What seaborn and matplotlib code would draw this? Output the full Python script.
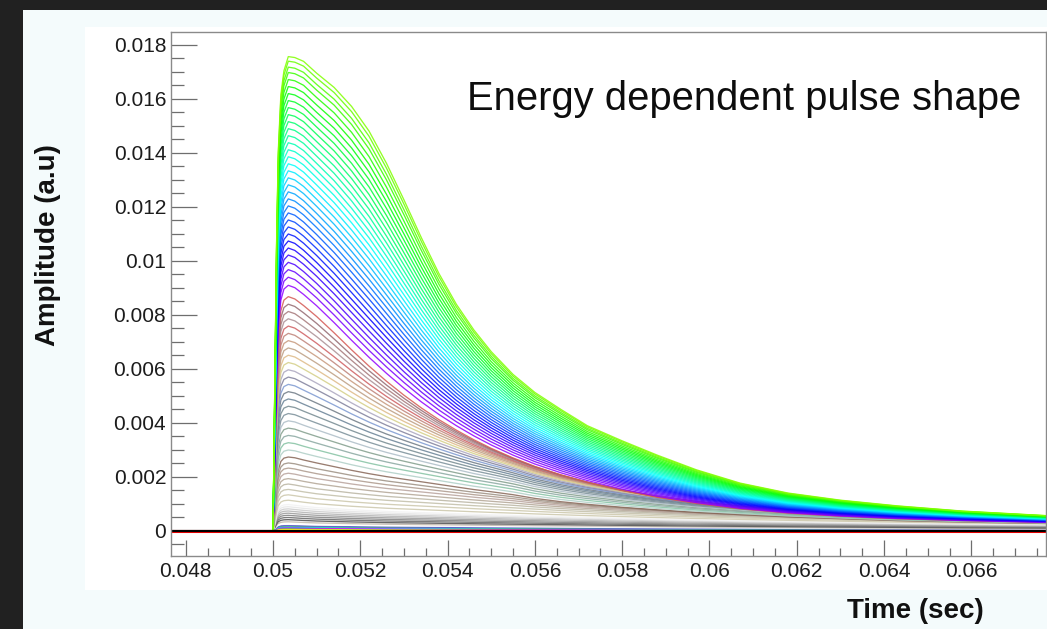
import colorsys
import numpy as np
import pandas as pd
import matplotlib
matplotlib.use("Agg")
import matplotlib.pyplot as plt
from matplotlib.patches import Rectangle
from matplotlib.ticker import MultipleLocator
import seaborn as sns

# ---------------- data ----------------
# time knots (s)
time_knots = [0.0476, 0.0500, 0.05004, 0.05008, 0.05012, 0.05018, 0.05025, 0.05035,
              0.0505, 0.0507, 0.0510, 0.0514, 0.0518, 0.0522, 0.0526, 0.0530,
              0.0534, 0.0538, 0.0542, 0.0546, 0.0550, 0.0555, 0.0560, 0.0566,
              0.0572, 0.0580, 0.0588, 0.0597, 0.0607, 0.0618, 0.0630, 0.0643,
              0.0658, 0.0678]

# normalised pulse shapes read for four pulse heights
profile_tiny = [0, 0, 0.30, 0.60, 0.82, 0.94, 0.985, 1.0, 0.97, 0.93, 0.88, 0.84,
                0.80, 0.77, 0.74, 0.72, 0.70, 0.68, 0.66, 0.64, 0.62, 0.60, 0.58,
                0.555, 0.53, 0.50, 0.47, 0.44, 0.41, 0.38, 0.35, 0.32, 0.29, 0.26]
profile_small = [0, 0, 0.30, 0.60, 0.82, 0.94, 0.985, 1.0, 0.99, 0.96, 0.92, 0.87,
                 0.82, 0.775, 0.735, 0.70, 0.665, 0.63, 0.595, 0.56, 0.53, 0.49,
                 0.44, 0.395, 0.36, 0.32, 0.285, 0.25, 0.22, 0.19, 0.165, 0.14,
                 0.12, 0.10]
profile_mid = [0, 0, 0.30, 0.60, 0.82, 0.94, 0.985, 1.0, 0.99, 0.962, 0.915, 0.845,
               0.772, 0.702, 0.637, 0.577, 0.522, 0.472, 0.427, 0.386, 0.349, 0.308,
               0.272, 0.236, 0.205, 0.170, 0.141, 0.115, 0.092, 0.074, 0.061, 0.051,
               0.043, 0.035]
profile_large = [0, 0, 0.30, 0.60, 0.80, 0.92, 0.97, 1.0, 0.998, 0.99, 0.965, 0.935,
                 0.895, 0.843, 0.775, 0.698, 0.618, 0.543, 0.478, 0.424, 0.378, 0.330,
                 0.292, 0.256, 0.222, 0.19, 0.16, 0.129, 0.101, 0.080, 0.065,
                 0.053, 0.042, 0.032]
profile_heights = [0.0008, 0.00275, 0.0088, 0.01757]

# peak amplitude of each pulse (a.u), curve index 1..N (ROOT colour index)
pulse_amplitudes = [
    0.0, 0.0, 0.00010, 0.00014, 0.00005, 0.00012, 0.00016, 0.00018, 0.00020,
    0.00026, 0.00034, 0.00042, 0.00050, 0.00058, 0.00066, 0.00074, 0.00082,
    0.00090, 0.00098,
    0.00114, 0.00134, 0.00154, 0.00174, 0.00194, 0.00214, 0.00233, 0.00252,
    0.00274,
    0.00300, 0.00327, 0.00354, 0.00381, 0.00408, 0.00435, 0.00462, 0.00489,
    0.00516, 0.00543, 0.00570, 0.00597, 0.00624, 0.00651, 0.00678, 0.00705,
    0.00732, 0.00759, 0.00786, 0.00813, 0.00840, 0.00868,
    0.00910, 0.00940, 0.00968, 0.00995, 0.01022, 0.01048, 0.01074, 0.01100,
    0.01126, 0.01152, 0.01178, 0.01204, 0.01230, 0.01256, 0.01282, 0.01308,
    0.01334, 0.01360, 0.01386, 0.01412, 0.01438, 0.01464, 0.01490, 0.01516,
    0.01542, 0.01568, 0.01594, 0.01620, 0.01646, 0.01672, 0.01698, 0.01718,
    0.01740, 0.01757,
]

x_ticks = [0.048, 0.050, 0.052, 0.054, 0.056, 0.058, 0.060, 0.062, 0.064, 0.066]
x_tick_labels = ["0.048", "0.05", "0.052", "0.054", "0.056", "0.058", "0.06",
                 "0.062", "0.064", "0.066"]
y_ticks = [0.0, 0.002, 0.004, 0.006, 0.008, 0.010, 0.012, 0.014, 0.016, 0.018]
y_tick_labels = ["0", "0.002", "0.004", "0.006", "0.008", "0.01", "0.012",
                 "0.014", "0.016", "0.018"]

title_text = "Energy dependent pulse shape"
x_label = "Time (sec)"
y_label = "Amplitude (a.u)"

# ---------------- ROOT default colour table ----------------
root_colors = {
    1: (0, 0, 0), 2: (1, 0, 0), 3: (0, 1, 0), 4: (0, 0, 1), 5: (1, 1, 0),
    6: (1, 0, 1), 7: (0, 1, 1), 8: (0.35, 0.83, 0.33), 9: (0.35, 0.33, 0.85),
    10: (0.999, 0.999, 0.999), 11: (0.754, 0.715, 0.676),
    12: (0.3, 0.3, 0.3), 13: (0.4, 0.4, 0.4), 14: (0.5, 0.5, 0.5),
    15: (0.6, 0.6, 0.6), 16: (0.7, 0.7, 0.7), 17: (0.8, 0.8, 0.8),
    18: (0.9, 0.9, 0.9), 19: (0.95, 0.95, 0.95),
    20: (0.8, 0.78, 0.67), 21: (0.8, 0.78, 0.67), 22: (0.76, 0.75, 0.66),
    23: (0.73, 0.71, 0.64), 24: (0.70, 0.65, 0.59), 25: (0.72, 0.64, 0.61),
    26: (0.68, 0.6, 0.55), 27: (0.61, 0.56, 0.51), 28: (0.53, 0.4, 0.34),
    29: (0.69, 0.81, 0.78), 30: (0.52, 0.76, 0.64), 31: (0.54, 0.66, 0.63),
    32: (0.51, 0.62, 0.55), 33: (0.68, 0.74, 0.78), 34: (0.48, 0.56, 0.6),
    35: (0.46, 0.54, 0.57), 36: (0.41, 0.51, 0.59), 37: (0.43, 0.48, 0.52),
    38: (0.49, 0.6, 0.82), 39: (0.5, 0.5, 0.61), 40: (0.67, 0.65, 0.75),
    41: (0.83, 0.81, 0.53), 42: (0.87, 0.73, 0.53), 43: (0.74, 0.62, 0.51),
    44: (0.78, 0.6, 0.49), 45: (0.75, 0.51, 0.47), 46: (0.81, 0.37, 0.38),
    47: (0.67, 0.56, 0.58), 48: (0.65, 0.47, 0.48), 49: (0.58, 0.41, 0.44),
    50: (0.83, 0.35, 0.33),
}


def root_color(idx):
    if idx in root_colors:
        return root_colors[idx]
    hue = 280.0 - (idx - 50) * 5.6
    return colorsys.hls_to_rgb(hue / 360.0, 0.5, 1.0)


# ---------------- build long table ----------------
profiles = np.array([profile_tiny, profile_small, profile_mid, profile_large])
rows = []
for k, amp in enumerate(pulse_amplitudes, start=1):
    shape = [np.interp(amp, profile_heights, profiles[:, j]) for j in range(len(time_knots))]
    for t, s in zip(time_knots, shape):
        rows.append((k, t, amp * s))
df = pd.DataFrame(rows, columns=["curve", "t", "v"])
palette = {k: root_color(k) for k in df["curve"].unique()}

# ---------------- figure ----------------
W, H = 1047, 629
sns.set_style("white")
plt.rcParams["font.family"] = ["Liberation Sans", "DejaVu Sans"]

fig = plt.figure(figsize=(W / 100, H / 100), dpi=100)
fig.patch.set_facecolor("#212121")
fig.patches.append(Rectangle((23 / W, 0), 1, (H - 10) / H, transform=fig.transFigure,
                             facecolor="#f4fbfc", edgecolor="none", zorder=-2))
fig.patches.append(Rectangle((85 / W, (H - 590) / H), 1, (590 - 27) / H,
                             transform=fig.transFigure, facecolor="white",
                             edgecolor="none", zorder=-1))

ax = fig.add_axes([171 / W, (H - 556) / H, (1045.5 - 171) / W, (556 - 32) / H])
ax.set_facecolor("white")

rest = df[df["curve"] > 2]
sns.lineplot(data=rest, x="t", y="v", hue="curve", palette=palette, legend=False,
             estimator=None, sort=False, linewidth=0.95, alpha=0.85, ax=ax)
# zero-amplitude (noise only) traces on top: red under black
sns.lineplot(data=df[df["curve"] == 2], x="t", y="v", color=root_color(2),
             estimator=None, sort=False, linewidth=2.2, ax=ax)
sns.lineplot(data=df[df["curve"] == 1], x="t", y="v", color=root_color(1),
             estimator=None, sort=False, linewidth=1.6, ax=ax)

ax.set_xlim(0.047663, 0.067698)
ax.set_ylim(-0.000926, 0.018481)
ax.set_xticks(x_ticks)
ax.set_xticklabels(x_tick_labels)
ax.set_yticks(y_ticks)
ax.set_yticklabels(y_tick_labels)
ax.xaxis.set_minor_locator(MultipleLocator(0.0005))
ax.yaxis.set_minor_locator(MultipleLocator(0.0005))
ax.set_xlabel("")
ax.set_ylabel("")

tick_col = "#6e6e6e"
ax.tick_params(axis="y", which="major", direction="in", length=18.5, width=0.9,
               color=tick_col, pad=3.5, labelsize=15, labelcolor="#1c1c1c",
               left=True, right=False)
ax.tick_params(axis="y", which="minor", direction="in", length=9.3, width=0.9,
               color=tick_col, left=True, right=False)
ax.tick_params(axis="x", which="major", direction="in", length=11.5, width=0.9,
               color=tick_col, pad=4, labelsize=15, labelcolor="#1c1c1c",
               bottom=True, top=False)
ax.tick_params(axis="x", which="minor", direction="in", length=5.5, width=0.9,
               color=tick_col, bottom=True, top=False)
for sp in ax.spines.values():
    sp.set_visible(True)
    sp.set_color("#8a8a8a")
    sp.set_linewidth(1.0)

fig.text(744 / W, 1 - 110 / H, title_text, ha="center", va="baseline",
         fontsize=28.8, color="#0d0d0d")
fig.text(915 / W, 1 - 611 / H, x_label, ha="center", va="center",
         fontsize=20, fontweight="bold", color="#111111")
fig.text(48 / W, 1 - 245 / H, y_label, ha="center", va="center", rotation=90,
         fontsize=20, fontweight="bold", color="#111111")

fig.savefig("out.png", dpi=100, facecolor=fig.get_facecolor())
